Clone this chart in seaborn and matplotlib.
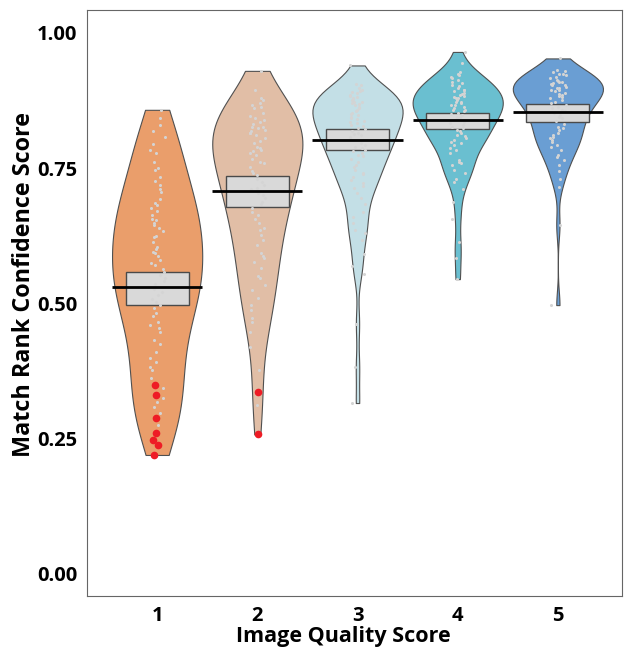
import numpy as np
import pandas as pd
import matplotlib
matplotlib.use("Agg")
import matplotlib.pyplot as plt
import seaborn as sns

sns.set_style("white")
plt.rcParams["font.family"] = ["Open Sans", "DejaVu Sans"]

# ---------------- data (read / estimated from the picture) ----------------
categories = ["1", "2", "3", "4", "5"]

q1_grey = [0.275, 0.297, 0.309, 0.318, 0.325, 0.344, 0.362, 0.377, 0.383, 0.392,
           0.399, 0.411, 0.426, 0.433, 0.448, 0.455, 0.460, 0.466, 0.476, 0.483,
           0.491, 0.497, 0.503, 0.508, 0.516, 0.522, 0.527, 0.531, 0.536, 0.542,
           0.547, 0.553, 0.558, 0.563, 0.571, 0.574, 0.580, 0.587, 0.593, 0.596,
           0.600, 0.605, 0.614, 0.622, 0.624, 0.634, 0.639, 0.645, 0.648, 0.654,
           0.657, 0.664, 0.671, 0.676, 0.682, 0.685, 0.694, 0.706, 0.712, 0.719,
           0.726, 0.733, 0.747, 0.750, 0.762, 0.778, 0.784, 0.795, 0.808, 0.819,
           0.830, 0.843, 0.858]
q1_red = [0.349, 0.331, 0.288, 0.260, 0.248, 0.238, 0.220]

q2_grey = [0.312, 0.377, 0.420, 0.448, 0.466, 0.473, 0.488, 0.497, 0.510,
           0.525, 0.534, 0.547, 0.550, 0.565, 0.577, 0.584, 0.587, 0.593, 0.608,
           0.618, 0.627, 0.636, 0.639, 0.648, 0.657, 0.664, 0.670, 0.676, 0.683,
           0.688, 0.695, 0.700, 0.704, 0.711, 0.714, 0.719, 0.725, 0.731, 0.737,
           0.741, 0.744, 0.752, 0.759, 0.762, 0.768, 0.774, 0.778, 0.781, 0.784,
           0.787, 0.790, 0.796, 0.800, 0.805, 0.811, 0.815, 0.815, 0.818, 0.821,
           0.824, 0.826, 0.827, 0.832, 0.835, 0.839, 0.842, 0.846, 0.853, 0.861,
           0.864, 0.867, 0.870, 0.876, 0.879, 0.895, 0.930]
q2_red = [0.336, 0.258]

q3_grey = [0.316, 0.383, 0.463, 0.555, 0.570, 0.592, 0.617, 0.630, 0.636, 0.648,
           0.660, 0.670, 0.684, 0.695, 0.704, 0.713, 0.718, 0.722, 0.728, 0.734,
           0.739, 0.741, 0.747, 0.753, 0.756, 0.762, 0.768, 0.772, 0.775, 0.778,
           0.781, 0.784, 0.787, 0.790, 0.793, 0.796, 0.802, 0.805, 0.808, 0.811,
           0.814, 0.816, 0.818, 0.822, 0.825, 0.828, 0.830, 0.833, 0.836, 0.838,
           0.841, 0.842, 0.845, 0.848, 0.851, 0.853, 0.855, 0.858, 0.861, 0.864,
           0.867, 0.869, 0.870, 0.872, 0.873, 0.876, 0.878, 0.879, 0.882, 0.884,
           0.885, 0.889, 0.891, 0.893, 0.895, 0.898, 0.903, 0.905, 0.940]
q3_red = []

q4_grey = [0.545, 0.584, 0.614, 0.657, 0.688, 0.712, 0.725, 0.731, 0.741, 0.747,
           0.756, 0.759, 0.762, 0.765, 0.778, 0.784, 0.788, 0.793, 0.796, 0.799,
           0.802, 0.805, 0.809, 0.812, 0.815, 0.818, 0.821, 0.824, 0.827, 0.830,
           0.833, 0.836, 0.839, 0.842, 0.844, 0.845, 0.848, 0.851, 0.853, 0.855,
           0.857, 0.858, 0.861, 0.864, 0.866, 0.867, 0.870, 0.872, 0.873, 0.876,
           0.879, 0.880, 0.882, 0.884, 0.885, 0.887, 0.889, 0.892, 0.894, 0.895,
           0.898, 0.902, 0.904, 0.907, 0.910, 0.913, 0.916, 0.919, 0.922, 0.925,
           0.928, 0.944, 0.965]
q4_red = []

q5_grey = [0.497, 0.645, 0.716, 0.731, 0.744, 0.756, 0.765, 0.770, 0.774,
           0.784, 0.790, 0.793, 0.799, 0.802, 0.805, 0.808, 0.812, 0.815, 0.821,
           0.825, 0.827, 0.832, 0.837, 0.842, 0.845, 0.848, 0.852, 0.855, 0.858,
           0.861, 0.864, 0.867, 0.870, 0.873, 0.876, 0.879, 0.882, 0.884, 0.885,
           0.887, 0.889, 0.892, 0.894, 0.895, 0.898, 0.899, 0.901, 0.903, 0.904,
           0.905, 0.906, 0.907, 0.909, 0.910, 0.911, 0.913, 0.916, 0.919, 0.922,
           0.924, 0.925, 0.928, 0.930, 0.932, 0.953]
q5_red = []

# mean line and inference box (lower / upper)
means = [0.530, 0.708, 0.802, 0.839, 0.854]
box_lo = [0.497, 0.678, 0.784, 0.823, 0.835]
box_hi = [0.558, 0.736, 0.822, 0.852, 0.869]

colors = ["#EA9E6B", "#E1BEA6", "#C3DFE6", "#6ABFD0", "#6A9ED3"]
bw_adjusts = [0.9, 0.9, 0.6, 0.65, 0.75]

ytick_vals = [0.00, 0.25, 0.50, 0.75, 1.00]
ytick_labels = ["0.00", "0.25", "0.50", "0.75", "1.00"]

# ---------------- build tables ----------------
grey_lists = [q1_grey, q2_grey, q3_grey, q4_grey, q5_grey]
red_lists = [q1_red, q2_red, q3_red, q4_red, q5_red]

rows_all, rows_grey, rows_red = [], [], []
for cat, g, r in zip(categories, grey_lists, red_lists):
    for v in g:
        rows_all.append((cat, v))
        rows_grey.append((cat, v))
    for v in r:
        rows_all.append((cat, v))
        rows_red.append((cat, v))
df_all = pd.DataFrame(rows_all, columns=["quality", "score"])
df_grey = pd.DataFrame(rows_grey, columns=["quality", "score"])
df_red = pd.DataFrame(rows_red, columns=["quality", "score"])

# ---------------- figure ----------------
fig = plt.figure(figsize=(6.24, 6.55), dpi=100)
ax = fig.add_axes([87 / 624, 59 / 655, 535 / 624, 586 / 655])

for cat, col, bw in zip(categories, colors, bw_adjusts):
    sub = df_all[df_all["quality"] == cat]
    sns.violinplot(data=sub, x="quality", y="score", order=categories, color=col,
                   inner=None, density_norm="width", cut=0, width=0.9,
                   linewidth=0.8, linecolor="#505050", saturation=1,
                   bw_adjust=bw, ax=ax)

pos = np.arange(len(categories))
ax.bar(pos, np.array(box_hi) - np.array(box_lo), bottom=box_lo, width=0.63,
       color="#D9D9D9", edgecolor="#4A4A4A", linewidth=1.0, zorder=3)

np.random.seed(3)
sns.stripplot(data=df_grey, x="quality", y="score", order=categories, color="#D4D4D4",
              size=2.2, jitter=0.08, linewidth=0, ax=ax, zorder=4)
sns.stripplot(data=df_red, x="quality", y="score", order=categories, color="#EE1C25",
              size=5.5, jitter=0.04, linewidth=0, ax=ax, zorder=5)

ax.hlines(means, pos - 0.45, pos + 0.45, color="black", linewidth=2.0, zorder=6)

ax.set_xlim(-0.7, 4.64)
ax.set_ylim(-0.0407, 1.0425)
ax.set_yticks(ytick_vals)
ax.set_yticklabels(ytick_labels)
ax.set_xticks(pos)
ax.set_xticklabels(categories)

for s in ax.spines.values():
    s.set_visible(True)
    s.set_color("#666666")
    s.set_linewidth(0.8)

ax.tick_params(axis="both", which="both", direction="out", length=4, width=0.8,
               color="#666666", labelsize=14.5, labelcolor="black", pad=3)
for lab in ax.get_xticklabels() + ax.get_yticklabels():
    lab.set_fontweight("bold")

ax.set_xlabel("Image Quality Score", fontsize=15.5, fontweight="bold", color="black",
              labelpad=0)
ax.set_ylabel("Match Rank Confidence Score", fontsize=16.8, fontweight="bold",
              color="black", labelpad=1)
ax.xaxis.label.set_x(0.48)
ax.yaxis.label.set_y(0.531)

fig.savefig("out.png", dpi=100)
